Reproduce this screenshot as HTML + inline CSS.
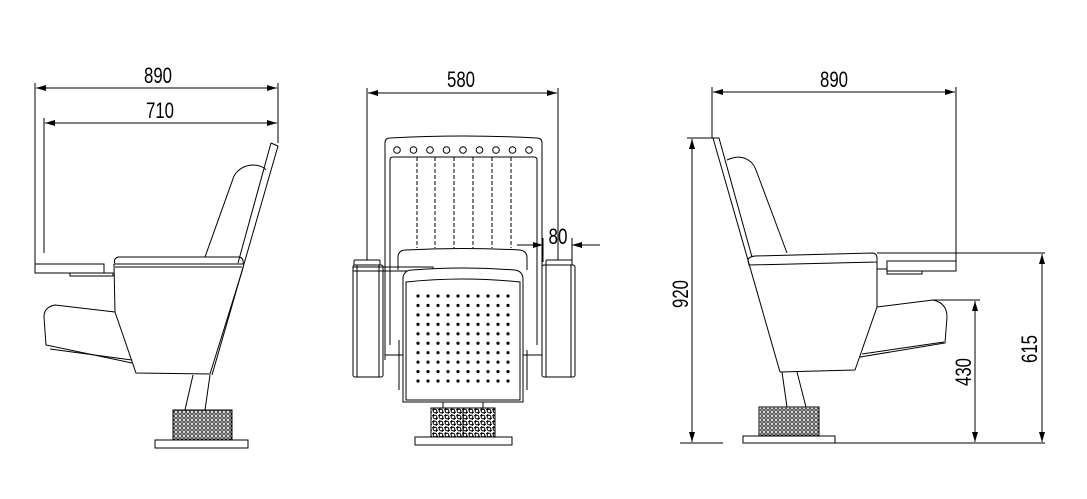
<!DOCTYPE html>
<html><head><meta charset="utf-8"><style>html,body{margin:0;padding:0;background:#fff}svg{display:block}</style></head>
<body>
<svg width="1087" height="499" viewBox="0 0 1087 499" xmlns="http://www.w3.org/2000/svg" font-family="Liberation Sans, sans-serif">
<defs>
<pattern id="h" width="4" height="4" patternUnits="userSpaceOnUse"><rect width="4" height="4" fill="#fff"/><circle cx="2" cy="2" r="1.3" fill="none" stroke="#000" stroke-width="0.8"/></pattern>
<pattern id="h2" width="6" height="6" patternUnits="userSpaceOnUse"><rect width="6" height="6" fill="#fff"/><circle cx="3" cy="3" r="1.8" fill="none" stroke="#000" stroke-width="1"/><circle cx="0" cy="0" r="1.8" fill="none" stroke="#000" stroke-width="1"/><circle cx="6" cy="6" r="1.8" fill="none" stroke="#000" stroke-width="1"/></pattern>
<pattern id="dots" x="418" y="296" width="10" height="9.45" patternUnits="userSpaceOnUse"><circle cx="0" cy="0" r="1.6" fill="#000"/><circle cx="10" cy="0" r="1.6" fill="#000"/><circle cx="0" cy="9.45" r="1.6" fill="#000"/><circle cx="10" cy="9.45" r="1.6" fill="#000"/></pattern>
<marker id="a" viewBox="0 0 10 6" refX="10" refY="3" markerWidth="10" markerHeight="6" orient="auto-start-reverse" markerUnits="userSpaceOnUse"><path d="M0,0 L10,3 L0,6z" fill="#000"/></marker>
</defs>
<g fill="none" stroke="#000" stroke-width="1">
<!-- LEFT VIEW -->
<line x1="35" y1="83" x2="35" y2="272"/>
<line x1="278" y1="83" x2="278" y2="143"/>
<line x1="44" y1="118" x2="44" y2="253"/>
<line x1="36" y1="88" x2="277" y2="88" marker-start="url(#a)" marker-end="url(#a)"/>
<line x1="45" y1="123" x2="277" y2="123" marker-start="url(#a)" marker-end="url(#a)"/>
<rect x="35" y="264" width="69" height="9"/>
<rect x="70" y="273" width="43" height="3"/>
<path d="M271,143 L278,146 L212,375"/>
<path d="M271,143 L238,263"/>
<path d="M205,257 L234,176 Q240,166 252,165 Q262,165 266,170"/>
<path d="M118,257 L240,257 Q244,259 243,264 L115,264 Q113,259 118,257z"/>
<line x1="115" y1="267" x2="242" y2="267"/>
<path d="M114,264 L115,312 L136,373 L210,374 L243,268"/>
<path d="M115,312 L55,305 Q44,307 44,317 L46,345 L132,363"/>
<line x1="50" y1="349" x2="132" y2="360"/>
<line x1="193" y1="375" x2="185" y2="410"/>
<line x1="210" y1="375" x2="205" y2="410"/>
<rect x="173" y="410" width="59" height="30" fill="url(#h)"/>
<rect x="155" y="440" width="93" height="8"/>
<!-- MIDDLE VIEW -->
<line x1="367" y1="88" x2="367" y2="260"/>
<line x1="558" y1="88" x2="558" y2="260"/>
<line x1="368" y1="93" x2="557" y2="93" marker-start="url(#a)" marker-end="url(#a)"/>
<path d="M385,360 L385,143 Q385,138 390,138 Q463,134 537,138 Q542,138 542,143 L542,360"/>
<path d="M390,345 L390,160 Q390,157 393,157 L534,157 Q537,157 537,160 L537,345"/>
<g>
<circle cx="397" cy="150" r="3.3"/><circle cx="413.5" cy="150" r="3.3"/><circle cx="430" cy="150" r="3.3"/><circle cx="446.5" cy="150" r="3.3"/><circle cx="463" cy="150" r="3.3"/><circle cx="479.5" cy="150" r="3.3"/><circle cx="496" cy="150" r="3.3"/><circle cx="512.5" cy="150" r="3.3"/><circle cx="529" cy="150" r="3.3"/>
</g>
<g stroke-dasharray="4,2">
<line x1="417" y1="157" x2="417" y2="248"/><line x1="435" y1="157" x2="435" y2="248"/><line x1="454" y1="157" x2="454" y2="248"/><line x1="473" y1="157" x2="473" y2="248"/><line x1="492" y1="157" x2="492" y2="248"/><line x1="511" y1="157" x2="511" y2="248"/>
</g>
<path d="M398,270 L398,256 Q399,250 406,250 Q463,247 520,250 Q527,251 527,258 L527,270"/>
<rect x="353" y="265" width="30" height="112" rx="2"/>
<line x1="357" y1="265" x2="357" y2="377"/><line x1="379" y1="265" x2="379" y2="377"/>
<rect x="354" y="260" width="26" height="5" rx="1"/>
<rect x="542" y="265" width="33" height="112" rx="2"/>
<line x1="546" y1="265" x2="546" y2="377"/><line x1="571" y1="265" x2="571" y2="377"/>
<rect x="546" y="260" width="26" height="5" rx="1"/>
<rect x="353" y="267" width="80" height="4"/>
<path d="M403,402 L403,277 Q405,270 412,270 Q463,266 515,270 Q522,271 523,278 L523,402z" fill="#fff"/>
<path d="M406,400 L406,282 Q463,276 520,282 L520,400z"/>
<rect x="413" y="291" width="100" height="95" fill="url(#dots)" stroke="none"/>
<line x1="385" y1="355" x2="403" y2="355"/><line x1="523" y1="355" x2="542" y2="355"/>
<line x1="399" y1="340" x2="399" y2="390"/><line x1="527" y1="350" x2="527" y2="390"/>
<line x1="543" y1="238" x2="543" y2="262"/><line x1="572" y1="238" x2="572" y2="262"/>
<line x1="517" y1="245" x2="543" y2="245" marker-end="url(#a)"/>
<line x1="600" y1="245" x2="572" y2="245" marker-end="url(#a)"/>
<line x1="443" y1="402" x2="443" y2="408"/><line x1="483" y1="402" x2="483" y2="408"/>
<rect x="431" y="408" width="64" height="29" fill="url(#h2)"/>
<line x1="463" y1="408" x2="463" y2="437"/>
<rect x="415" y="437" width="97" height="8"/>
<!-- RIGHT VIEW -->
<line x1="712" y1="87" x2="712" y2="138"/>
<line x1="956" y1="87" x2="956" y2="270"/>
<line x1="713" y1="92" x2="955" y2="92" marker-start="url(#a)" marker-end="url(#a)"/>
<line x1="687" y1="138" x2="713" y2="138"/>
<line x1="692" y1="139" x2="692" y2="442" marker-start="url(#a)" marker-end="url(#a)"/>
<line x1="680" y1="443" x2="723" y2="443"/>
<line x1="743" y1="443" x2="1045" y2="443"/>
<path d="M713,138 L719,138 L752,257"/>
<line x1="713" y1="138" x2="780" y2="372"/>
<path d="M727,160 Q742,153 752,163 Q755,167 756,170 L787,253"/>
<path d="M748,260 Q748,257 755,256 L873,253 Q877,254 877,258 L877,262 L749,265z"/>
<path d="M877,262 L877,307 L855,370 L780,372"/>
<line x1="877" y1="253" x2="1045" y2="253"/>
<rect x="887" y="261" width="69" height="10"/>
<rect x="887" y="271" width="35" height="3"/>
<line x1="877" y1="269" x2="887" y2="269"/>
<path d="M877,307 L933,300 Q947,303 947,317 L945,343 L860,357"/>
<line x1="862" y1="354" x2="944" y2="342"/>
<line x1="933" y1="300" x2="980" y2="300"/>
<line x1="975" y1="301" x2="975" y2="442" marker-start="url(#a)" marker-end="url(#a)"/>
<line x1="1042" y1="254" x2="1042" y2="442" marker-start="url(#a)" marker-end="url(#a)"/>
<line x1="782" y1="372" x2="787" y2="407"/>
<line x1="797" y1="372" x2="806" y2="407"/>
<rect x="759" y="407" width="60" height="29" fill="url(#h)"/>
<rect x="743" y="436" width="92" height="7"/>
</g>
<g font-size="22" fill="#000" text-anchor="middle">
<text x="158" y="83" textLength="28" lengthAdjust="spacingAndGlyphs">890</text>
<text x="160" y="118" textLength="28" lengthAdjust="spacingAndGlyphs">710</text>
<text x="461" y="87" textLength="28" lengthAdjust="spacingAndGlyphs">580</text>
<text x="558" y="244" textLength="19" lengthAdjust="spacingAndGlyphs">80</text>
<text x="834" y="87" textLength="28" lengthAdjust="spacingAndGlyphs">890</text>
<text transform="translate(688,294) rotate(-90)" textLength="28" lengthAdjust="spacingAndGlyphs">920</text>
<text transform="translate(971,372) rotate(-90)" textLength="28" lengthAdjust="spacingAndGlyphs">430</text>
<text transform="translate(1037,349) rotate(-90)" textLength="28" lengthAdjust="spacingAndGlyphs">615</text>
</g>
</svg>
</body></html>
